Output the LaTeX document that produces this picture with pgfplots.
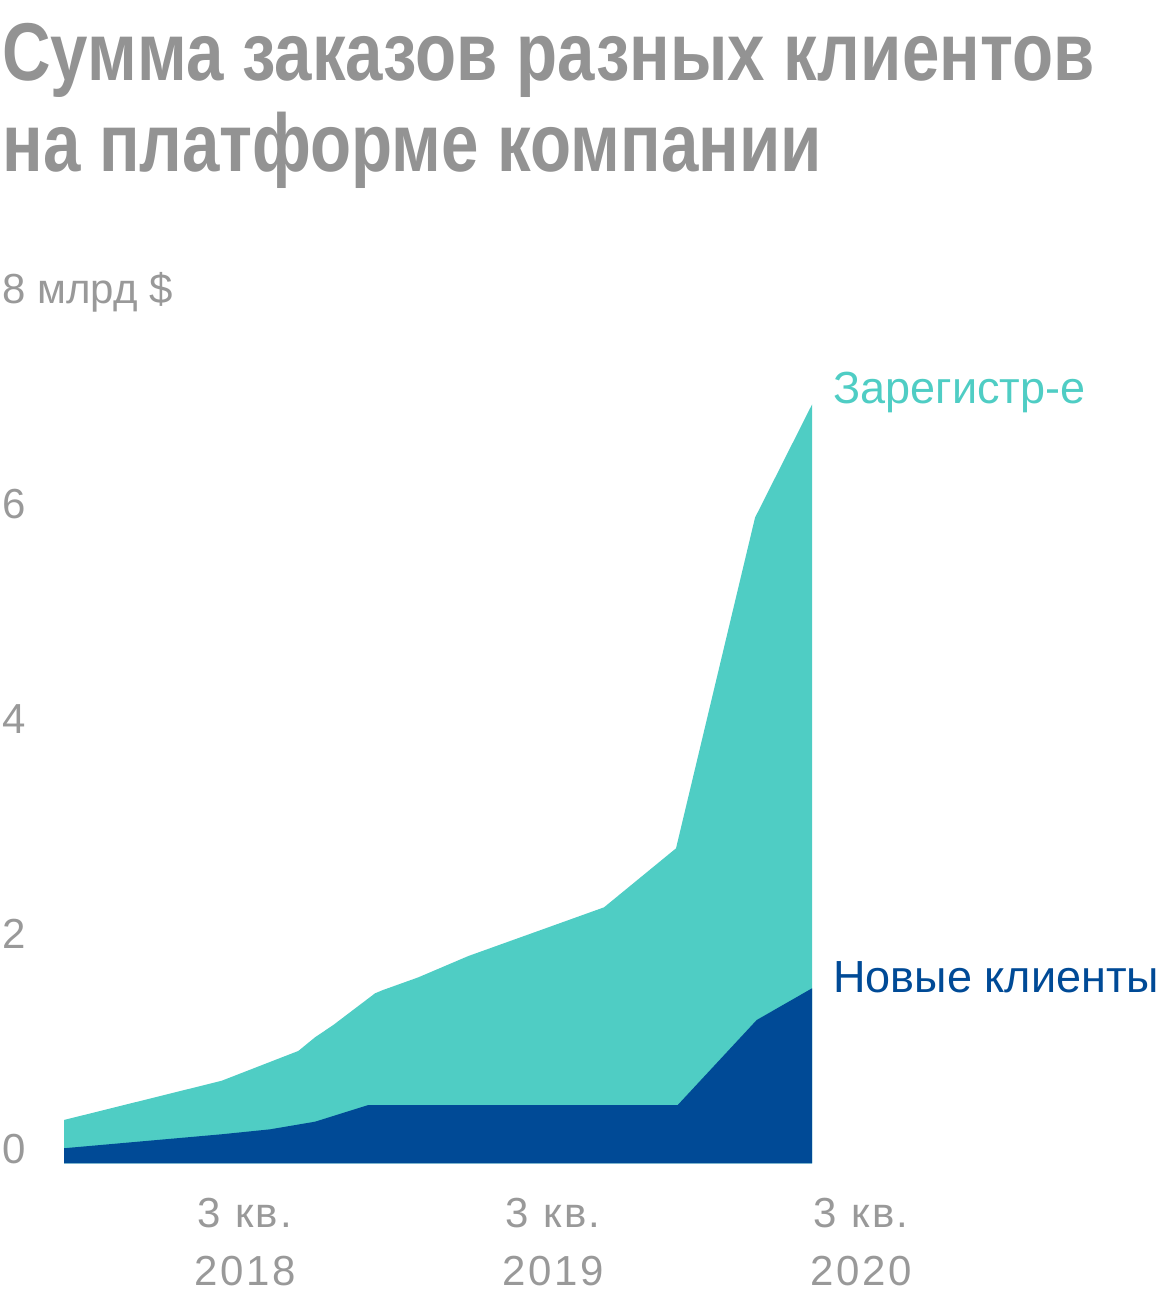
\documentclass[border=0pt]{standalone}
\usepackage{pgfplots}
\pgfplotsset{compat=1.18}
\usepackage{fontspec}
\setmainfont{Liberation Sans}
\newfontfamily\titlefont{Liberation Sans}[FakeStretch=0.82]
\newfontfamily\tickfont{Liberation Sans}[LetterSpace=6]
\definecolor{teal1}{HTML}{4FCDC4}
\definecolor{blue1}{HTML}{004A96}
\definecolor{gtext}{HTML}{999999}
\definecolor{gtitle}{HTML}{939393}
\begin{document}
\begin{tikzpicture}
\path[use as bounding box] (0,0) rectangle (580pt,652pt);
\node[anchor=base west, inner sep=0pt, text=gtitle, font=\titlefont\fontsize{41}{49}\selectfont\bfseries] at (1pt,611.5pt) {Сумма заказов разных клиентов};
\node[anchor=base west, inner sep=0pt, text=gtitle, font=\titlefont\fontsize{41}{49}\selectfont\bfseries] at (1pt,566pt) {на платформе компании};
\begin{axis}[
  at={(32pt,70.35pt)}, anchor=south west,
  scale only axis, width=418pt, height=430pt,
  xmin=-2.351, xmax=8.506, ymin=0, ymax=8,
  axis line style={draw=none},
  major tick length=0pt,
  tick style={draw=none},
  xtick={0,4,8},
  xticklabels={3 кв.\\2018, 3 кв.\\2019, 3 кв.\\2020},
  xticklabel style={align=center, anchor=north, inner sep=0pt, yshift=-17.2pt, text=gtext, font=\tickfont\fontsize{21}{29}\selectfont},
  ytick={0,2,4,6,8},
  yticklabels={0,2,4,6,8 млрд \$},
  yticklabel style={anchor=base west, inner sep=0pt, xshift=-31pt, text=gtext, font=\fontsize{21}{25}\selectfont},
  /pgf/number format/assume math mode=true,
  clip=false,
]
\addplot[fill=teal1, draw=none] coordinates {
(-2.351,0.403) (-0.303,0.768) (0.692,1.045) (0.909,1.172) (1.147,1.287)
(1.688,1.581) (1.792,1.612) (2.251,1.730) (2.900,1.928) (4.662,2.381)
(5.597,2.930) (6.623,6.006) (7.364,7.060)} \closedcycle;
\addplot[fill=blue1, draw=none] coordinates {
(-2.351,0.140) (-0.303,0.270) (0.325,0.316) (0.909,0.387) (1.601,0.542)
(5.619,0.542) (6.645,1.333) (7.364,1.628)} \closedcycle;
\end{axis}
\node[anchor=base west, inner sep=0pt, text=teal1, font=\fontsize{22.5}{26}\selectfont] at (416.5pt,450pt) {Зарегистр-е};
\node[anchor=base west, inner sep=0pt, text=blue1, font=\fontsize{22.5}{26}\selectfont] at (416.5pt,155.5pt) {Новые клиенты};
\end{tikzpicture}
\end{document}
